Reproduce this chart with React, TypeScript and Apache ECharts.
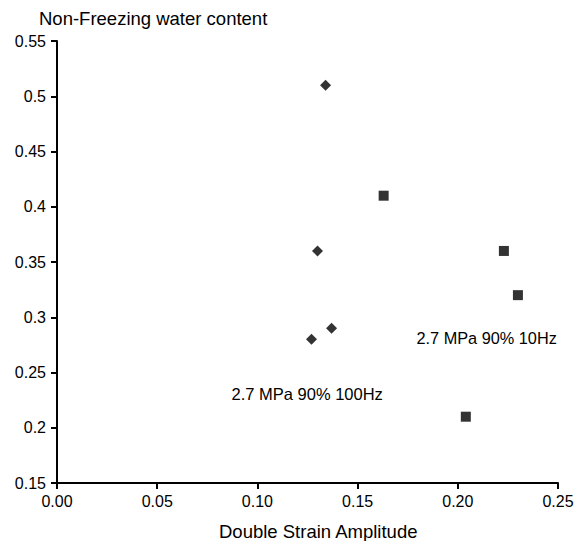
import React, { useEffect, useRef } from "react";
import * as echarts from "echarts";

const xTicks = [0.0, 0.05, 0.1, 0.15, 0.2, 0.25];
const yTicks = [0.15, 0.2, 0.25, 0.3, 0.35, 0.4, 0.45, 0.5, 0.55];

const hz100X = [0.134, 0.13, 0.137, 0.127];
const hz100Y = [0.51, 0.36, 0.29, 0.28];
const hz10X = [0.163, 0.223, 0.23, 0.204];
const hz10Y = [0.41, 0.36, 0.32, 0.21];

const yTitle = "Non-Freezing water content";
const xTitle = "Double Strain Amplitude";
const label10 = "2.7 MPa 90% 10Hz";
const label100 = "2.7 MPa 90% 100Hz";

const FONT = "'Liberation Sans', Arial, sans-serif";

export default function App() {
  const ref = useRef<HTMLDivElement>(null);
  useEffect(() => {
    if (!ref.current) return;
    const chart = echarts.init(ref.current, undefined, { renderer: "svg" });
    const axisCommon = {
      axisLine: { show: true, onZero: false, lineStyle: { color: "#000", width: 2 } },
      axisTick: { show: true, length: 6, lineStyle: { color: "#000", width: 2 } },
      splitLine: { show: false },
    };
    const txt = (text: string, x: number, y: number, size: number) => ({
      type: "text",
      x,
      y,
      style: {
        text,
        fill: "#000",
        font: `${size}px ${FONT}`,
        align: "left",
        verticalAlign: "middle",
      },
    });
    chart.setOption({
      animation: false,
      backgroundColor: "#fff",
      textStyle: { fontFamily: FONT },
      grid: { left: 57, right: 28, top: 41, bottom: 58, containLabel: false },
      xAxis: {
        type: "value",
        min: xTicks[0],
        max: xTicks[xTicks.length - 1],
        interval: 0.05,
        axisLabel: {
          color: "#000",
          fontSize: 16,
          fontFamily: FONT,
          margin: 10,
          formatter: (v: number) => v.toFixed(2),
        },
        ...axisCommon,
      },
      yAxis: {
        type: "value",
        min: yTicks[0],
        max: yTicks[yTicks.length - 1],
        interval: 0.05,
        axisLabel: {
          color: "#000",
          fontSize: 16,
          fontFamily: FONT,
          margin: 11,
          formatter: (v: number) => String(parseFloat(v.toFixed(2))),
        },
        ...axisCommon,
      },
      graphic: [
        txt(yTitle, 39, 18.5, 18.5),
        txt(xTitle, 219, 531.5, 18.5),
        txt(label10, 416.5, 338, 16.3),
        txt(label100, 231.5, 394.3, 16.5),
      ],
      series: [
        {
          type: "scatter",
          symbol: "diamond",
          symbolSize: 11,
          itemStyle: { color: "#000" },
          data: hz100X.map((x, i) => [x, hz100Y[i]]),
        },
        {
          type: "scatter",
          symbol: "rect",
          symbolSize: 10,
          itemStyle: { color: "#000" },
          data: hz10X.map((x, i) => [x, hz10Y[i]]),
        },
      ],
    });
    return () => chart.dispose();
  }, []);
  return (
    <div
      ref={ref}
      style={{ position: "fixed", left: 0, top: 0, width: 586, height: 541, background: "#fff" }}
    />
  );
}
